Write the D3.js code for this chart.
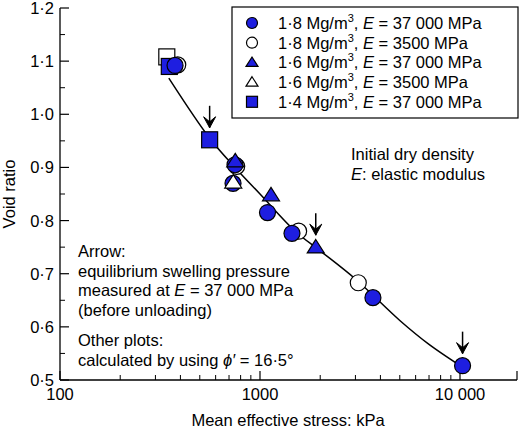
<!DOCTYPE html><html><head><meta charset="utf-8"><script src="https://cdn.jsdelivr.net/npm/d3@7"></script>
<style>body{margin:0;background:#fff}text{font-family:Arial,"Liberation Sans",sans-serif;}</style></head><body><svg id="c" width="520" height="432"></svg><script>
const blue="#1e1ee0";
const filledCircles=[[376,1.092],[733,0.87],[750,0.905],[1090,0.815],[1445,0.776],[3670,0.655],[10300,0.527]];
const openCircles=[[388,1.093],[765,0.902],[1560,0.78],[3100,0.683]];
const filledTriangles=[[752,0.912],[1135,0.848],[1900,0.75]];
const openTriangles=[[735,0.872]];
const filledSquares=[[352,1.09],[560,0.952]];
const openSquares=[[342,1.108]];
const arrowsAt=[[560,0.952],[1900,0.75],[10300,0.527]];
const curve=[[350,1.068],[560,0.955],[750,0.9],[1000,0.85],[1500,0.78],[2000,0.743],[3000,0.69],[5000,0.612],[7000,0.567],[10500,0.522]];
const xTicks=[100,1000,10000];const xTickLabels=["100","1000","10 000"];
const yTicks=[0.5,0.6,0.7,0.8,0.9,1.0,1.1,1.2];
const legendLabels=[["1·8 Mg/m","3",", ","E"," = 37 000 MPa"],["1·8 Mg/m","3",", ","E"," = 3500 MPa"],["1·6 Mg/m","3",", ","E"," = 37 000 MPa"],["1·6 Mg/m","3",", ","E"," = 3500 MPa"],["1·4 Mg/m","3",", ","E"," = 37 000 MPa"]];
const FS=16.5;
const svg=d3.select("#c");
const x=d3.scaleLog().domain([100,10**4.285]).range([60,517]);
const y=d3.scaleLinear().domain([0.5,1.2]).range([380,8]);
const g=svg.append("g");
g.append("line").attr("x1",60).attr("x2",517).attr("y1",380).attr("y2",380).attr("stroke","#000").attr("stroke-width",1.3);
g.append("line").attr("x1",60).attr("x2",60).attr("y1",8).attr("y2",380).attr("stroke","#000").attr("stroke-width",1.3);
const minorX=[];for(let d=100;d<=10000;d*=10)for(let k=2;k<=9;k++)if(d*k<10**4.285)minorX.push(d*k);
minorX.forEach(v=>g.append("line").attr("x1",x(v)).attr("x2",x(v)).attr("y1",380).attr("y2",375).attr("stroke","#000"));
xTicks.concat([10**4.285]).forEach(v=>g.append("line").attr("x1",x(v)).attr("x2",x(v)).attr("y1",380).attr("y2",371).attr("stroke","#000").attr("stroke-width",1.2));
xTicks.forEach((v,i)=>g.append("text").attr("x",x(v)).attr("y",400).attr("text-anchor","middle").attr("font-size",FS).text(xTickLabels[i]));
yTicks.forEach(v=>{g.append("line").attr("x1",60).attr("x2",69).attr("y1",y(v)).attr("y2",y(v)).attr("stroke","#000").attr("stroke-width",1.2);
 g.append("text").attr("x",54).attr("y",y(v)+6).attr("text-anchor","end").attr("font-size",FS).text(v.toFixed(1).replace(".","·"));});
for(let v=0.55;v<1.2;v+=0.1)g.append("line").attr("x1",60).attr("x2",65).attr("y1",y(v)).attr("y2",y(v)).attr("stroke","#000");
g.append("text").attr("x",288).attr("y",426).attr("text-anchor","middle").attr("font-size",FS).text("Mean effective stress: kPa");
g.append("text").attr("transform","translate(15,194) rotate(-90)").attr("text-anchor","middle").attr("font-size",FS).text("Void ratio");
g.append("path").attr("d",d3.line().x(d=>x(d[0])).y(d=>y(d[1])).curve(d3.curveCatmullRom)(curve)).attr("fill","none").attr("stroke","#000").attr("stroke-width",1.5);
function circ(sel,cx,cy,r,fill){sel.append("circle").attr("cx",cx).attr("cy",cy).attr("r",r).attr("fill",fill).attr("stroke","#000").attr("stroke-width",1.2);}
function tri(sel,cx,cy,s,fill){const h=s*0.9;sel.append("path").attr("d",`M${cx},${cy-h}L${cx+s},${cy+h*0.75}L${cx-s},${cy+h*0.75}Z`).attr("fill",fill).attr("stroke","#000").attr("stroke-width",1.2);}
function sq(sel,cx,cy,s,fill){sel.append("rect").attr("x",cx-s).attr("y",cy-s).attr("width",2*s).attr("height",2*s).attr("fill",fill).attr("stroke","#000").attr("stroke-width",1.2);}
openSquares.forEach(d=>sq(g,x(d[0]),y(d[1]),8,"#fff"));
filledSquares.forEach(d=>sq(g,x(d[0]),y(d[1]),8,blue));
openCircles.forEach(d=>circ(g,x(d[0]),y(d[1]),8,"#fff"));
filledCircles.forEach(d=>circ(g,x(d[0]),y(d[1]),8,blue));
filledTriangles.forEach(d=>tri(g,x(d[0]),y(d[1]),8.5,blue));
openTriangles.forEach(d=>tri(g,x(d[0]),y(d[1]),8.5,"#fff"));
arrowsAt.forEach(d=>{const cx=x(d[0]),cy=y(d[1])-12;
 g.append("line").attr("x1",cx).attr("x2",cx).attr("y1",cy-22).attr("y2",cy).attr("stroke","#000").attr("stroke-width",1.5);
 g.append("path").attr("d",`M${cx-6},${cy-11}L${cx},${cy}L${cx+6},${cy-11}L${cx},${cy-6}Z`).attr("fill","#000").attr("stroke","#000").attr("stroke-width",1);});
g.append("rect").attr("x",232).attr("y",7).attr("width",286).attr("height",111).attr("fill","#fff").attr("stroke","#000").attr("stroke-width",1.2);
const makers=[(s,cx,cy)=>circ(s,cx,cy,5.5,blue),(s,cx,cy)=>circ(s,cx,cy,5.5,"#fff"),(s,cx,cy)=>tri(s,cx,cy,6,blue),(s,cx,cy)=>tri(s,cx,cy,6,"#fff"),(s,cx,cy)=>sq(s,cx,cy,5.5,blue)];
legendLabels.forEach((l,i)=>{const cy=23+i*19.7;makers[i](g,252,cy);
 const t=g.append("text").attr("x",278).attr("y",cy+6).attr("font-size",FS);
 t.append("tspan").text(l[0]);t.append("tspan").attr("dy",-7).attr("font-size",11).text(l[1]);
 t.append("tspan").attr("dy",7).text(l[2]);t.append("tspan").attr("font-style","italic").text(l[3]);t.append("tspan").text(l[4]);});
function ann(xx,yy,parts){const t=g.append("text").attr("x",xx).attr("y",yy).attr("font-size",FS);parts.forEach(p=>t.append("tspan").attr("font-style",p[1]?"italic":null).text(p[0]));}
ann(351,160,[["Initial dry density"]]);ann(351,180,[["E",1],[": elastic modulus"]]);
ann(78,257,[["Arrow:"]]);ann(78,277,[["equilibrium swelling pressure"]]);ann(78,296,[["measured at "],["E",1],[" = 37 000 MPa"]]);ann(78,316,[["(before unloading)"]]);
ann(78,346,[["Other plots:"]]);ann(78,366,[["calculated by using "],["ϕ′",1],[" = 16·5°"]]);
</script></body></html>
